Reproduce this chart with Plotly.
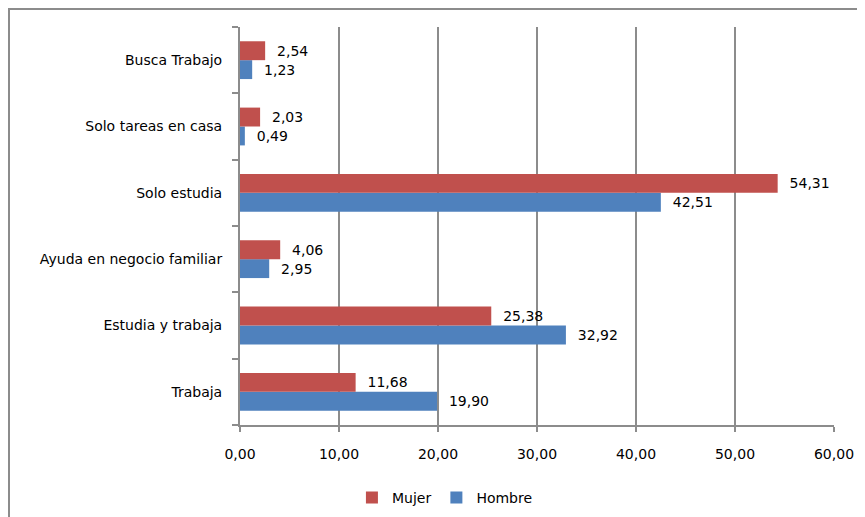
import plotly.graph_objects as go

categories = ["Trabaja", "Estudia y trabaja", "Ayuda en negocio familiar",
              "Solo estudia", "Solo tareas en casa", "Busca Trabajo"]
mujer = [11.68, 25.38, 4.06, 54.31, 2.03, 2.54]
hombre = [19.90, 32.92, 2.95, 42.51, 0.49, 1.23]
x_ticks = [0, 10, 20, 30, 40, 50, 60]

def fmt(v):
    return f"{v:.2f}".replace(".", ",")

font = "'DejaVu Sans', sans-serif"

# plot area in figure pixels (page adds 8px body offset)
L, R, T, B = 232, 826, 19, 418
PW, PH = R - L, B - T

fig = go.Figure()
fig.add_trace(go.Bar(
    y=categories, x=hombre, name="Hombre", orientation="h",
    marker=dict(color="#4F81BD", line=dict(width=0)),
    text=["  " + fmt(v) for v in hombre], textposition="outside",
    textfont=dict(size=14, color="#000000", family=font),
    cliponaxis=False, legendrank=2,
))
fig.add_trace(go.Bar(
    y=categories, x=mujer, name="Mujer", orientation="h",
    marker=dict(color="#C0504D", line=dict(width=0)),
    text=["  " + fmt(v) for v in mujer], textposition="outside",
    textfont=dict(size=14, color="#000000", family=font),
    cliponaxis=False, legendrank=1,
))

fig.update_layout(
    width=865, height=517,
    margin=dict(l=L, r=865 - R, t=T, b=517 - B),
    paper_bgcolor="white", plot_bgcolor="white",
    barmode="group", bargap=0.43, bargroupgap=0,
    separators=",.",
    font=dict(family=font, size=14, color="#000000"),
    showlegend=True,
    legend=dict(orientation="h", x=0.345, xanchor="center", y=-0.18, yanchor="middle",
                font=dict(size=14), itemwidth=30, tracegroupgap=0),
    xaxis=dict(range=[0, 60], tickvals=x_ticks, tickformat=".2f",
               showgrid=True, gridcolor="#8c8c8c", gridwidth=1.5,
               showline=True, linecolor="#8c8c8c", linewidth=2,
               ticks="outside", ticklen=5, tickcolor="#8c8c8c", tickwidth=2,
               zeroline=False, tickfont=dict(size=14), fixedrange=True,
               ticklabelstandoff=10),
    yaxis=dict(showline=True, linecolor="#8c8c8c", linewidth=2,
               ticks="outside", tickson="boundaries", ticklen=6,
               tickcolor="#8c8c8c", tickwidth=2, showgrid=False,
               tickfont=dict(size=14), ticklabelstandoff=13),
)

# outer chart border (at the figure's top-left edge)
fig.add_shape(type="rect", xref="paper", yref="paper",
              x0=(1 - L) / PW, x1=(880 - L) / PW,
              y0=(B - 540) / PH, y1=(B - 1) / PH,
              line=dict(color="#8c8c8c", width=2), fillcolor="rgba(0,0,0,0)", layer="below")

fig.write_html("out.html")
